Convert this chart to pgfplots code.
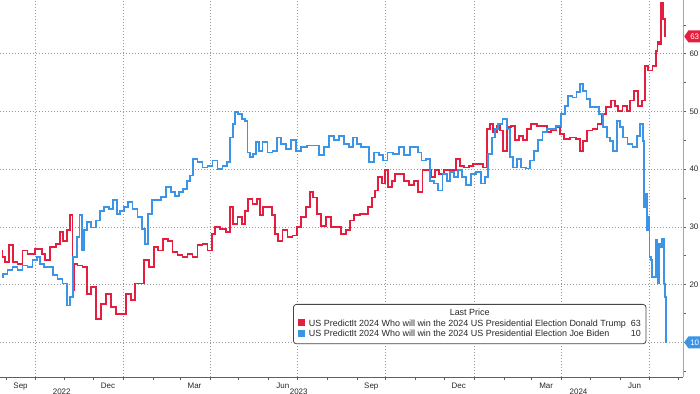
\documentclass[border=0pt]{standalone}
\usepackage{fontspec}
\setmainfont{Liberation Sans}
\usepackage{pgfplots}
\pgfplotsset{compat=1.18}
\usetikzlibrary{shapes.symbols}
\definecolor{trump}{RGB}{228,30,62}
\definecolor{biden}{RGB}{60,148,230}
\definecolor{gridc}{RGB}{150,150,150}
\definecolor{axisc}{RGB}{95,95,95}
\definecolor{raxis}{RGB}{200,150,160}
\definecolor{labc}{RGB}{40,40,40}
\definecolor{legc}{RGB}{70,70,70}

\pgfplotstableread{
day val
-34.7 25.9
-33.0 24.8
-29.5 23.9
-24.3 26.8
-20.8 23.9
-15.6 23.6
-10.4 25.9
-5.2 25.3
5.2 26.2
8.7 25.3
12.1 24.2
19.1 26.5
24.3 27.1
27.7 29.1
31.2 27.6
34.7 29.4
38.2 32.0
39.9 19.0
41.6 23.6
46.8 23.3
52.0 23.0
55.5 18.4
60.7 19.6
66.9 14.1
71.1 16.7
76.3 18.4
81.5 16.1
86.7 14.9
91.9 14.9
97.1 18.4
102.3 17.3
105.8 20.2
111.0 20.2
116.2 24.2
121.4 23.0
126.6 26.5
130.1 25.9
137.0 27.9
140.5 27.6
145.7 25.6
150.9 25.1
156.1 24.8
161.3 25.3
166.5 24.8
171.7 26.8
176.9 27.1
182.1 25.9
185.6 28.8
189.1 30.0
196.0 29.7
201.2 29.1
204.7 33.4
208.1 30.5
213.3 31.7
216.8 30.5
220.3 32.8
223.8 34.9
229.0 34.0
232.4 34.9
235.9 32.0
239.4 33.4
244.6 33.4
248.0 32.0
251.5 28.8
255.0 27.6
260.2 29.4
265.4 28.2
270.6 28.5
274.1 30.0
279.3 31.7
284.5 33.4
287.9 36.0
291.4 35.1
294.9 32.3
300.1 30.2
305.3 31.7
310.5 30.0
315.7 30.0
320.9 28.8
326.1 29.4
329.6 31.1
334.8 32.0
341.7 32.3
345.1 32.3
348.6 33.4
352.1 35.1
355.5 36.3
359.0 38.6
362.5 37.5
366.0 39.8
369.4 36.9
372.9 38.0
376.4 39.2
381.6 39.2
386.8 38.0
392.0 37.2
397.2 38.0
400.6 36.0
405.8 39.8
411.0 39.8
414.5 38.6
418.0 39.8
423.2 39.2
428.4 39.8
435.3 39.8
440.5 41.8
444.0 40.6
449.2 40.3
454.4 40.6
457.9 40.9
464.8 40.9
468.3 40.3
471.8 47.0
475.2 47.8
478.7 46.4
482.2 47.5
485.6 46.7
489.1 43.2
492.6 47.3
497.8 47.5
501.2 45.0
506.4 45.8
509.9 45.0
513.4 47.0
518.6 47.8
525.5 47.5
530.7 47.5
534.2 46.4
539.4 46.7
544.6 47.3
548.1 46.1
553.3 45.2
560.2 45.5
565.4 45.2
568.9 43.2
572.3 44.9
577.5 46.7
582.8 47.0
588.0 47.8
591.4 49.6
596.6 50.7
601.8 51.9
605.3 51.0
608.8 50.1
614.0 51.0
617.4 50.1
620.9 51.9
626.1 53.6
629.6 51.0
633.1 51.9
635.8 57.9
640.0 57.1
645.2 57.9
647.0 60.5
648.7 62.0
650.4 61.7
652.6 68.8
654.6 66.0
656.6 63.0
}\trumptable

\pgfplotstableread{
day val
-34.7 21.3
-31.2 21.9
-26.0 22.5
-20.8 23.0
-15.6 22.5
-10.4 23.3
-5.2 23.0
0.0 24.2
3.5 24.8
6.9 23.6
12.1 23.0
17.3 23.0
20.8 21.6
26.0 21.0
31.2 20.2
34.7 16.4
38.2 17.8
41.6 24.8
45.1 28.2
47.5 32.0
49.6 25.9
52.0 29.4
55.5 30.8
60.7 29.9
65.9 31.1
69.4 32.8
74.6 33.4
79.8 33.1
83.2 34.6
86.7 32.3
90.2 32.8
95.4 33.4
98.9 34.3
104.1 33.1
109.3 31.7
112.7 29.7
116.2 27.1
119.7 32.3
123.1 34.6
128.3 34.6
133.5 35.2
138.7 36.9
144.0 36.0
147.4 35.4
152.6 36.0
156.1 36.6
159.6 38.0
163.0 38.9
166.5 41.8
171.7 41.2
176.9 40.3
182.1 40.6
187.3 41.5
192.5 40.0
197.7 40.6
201.2 41.2
204.7 45.5
207.1 47.8
209.2 49.85
213.3 49.6
216.8 48.7
220.3 48.4
222.0 42.9
225.5 42.1
229.0 42.6
231.4 44.7
234.2 43.2
239.4 44.7
244.6 42.9
249.8 43.2
253.2 45.5
258.4 44.4
263.6 43.5
268.9 45.0
274.1 43.2
279.3 43.8
286.2 44.1
293.1 44.1
298.3 42.4
303.5 43.8
308.7 45.8
314.0 45.0
319.2 45.8
324.4 44.4
329.6 43.8
333.0 45.5
336.5 44.4
341.7 43.8
345.1 43.8
350.3 41.2
355.5 42.9
360.7 42.4
364.2 41.5
369.4 42.9
376.4 42.6
381.6 43.8
386.8 42.4
393.7 43.8
397.2 43.8
400.6 42.9
404.1 41.5
409.3 41.8
412.8 38.0
418.0 37.5
421.5 36.3
426.7 39.2
430.1 38.0
433.6 39.5
438.8 38.6
442.3 39.8
445.7 38.6
450.9 37.2
456.1 39.2
461.3 39.5
466.6 37.5
470.0 38.6
473.5 42.6
477.0 45.5
480.4 47.0
483.9 47.8
489.1 48.7
492.6 47.0
496.0 42.1
499.5 40.3
503.0 41.8
508.2 40.3
513.4 40.1
516.9 41.5
522.1 43.2
525.5 45.0
530.7 46.4
534.2 47.0
539.4 47.0
544.6 47.5
549.8 49.6
553.3 51.0
556.7 52.7
561.9 52.4
565.4 53.3
568.9 54.8
572.3 53.6
575.8 52.2
579.3 50.7
584.5 50.7
589.7 49.6
593.2 47.3
596.6 45.5
600.1 44.9
603.6 43.2
607.0 48.4
610.5 47.3
614.0 45.5
619.2 44.4
624.4 43.8
627.9 45.8
631.3 47.8
633.7 44.9
634.7 33.4
636.5 35.7
637.5 29.4
639.2 31.7
639.9 24.8
641.7 24.2
642.7 21.3
645.1 21.3
646.9 27.7
648.6 20.2
650.3 27.1
652.1 26.5
653.8 27.9
654.9 20.2
656.2 17.8
657.3 10.0
}\bidentable

\begin{document}
\begin{tikzpicture}[font=\fontsize{8}{9.6}\selectfont]
\begin{axis}[
  at={(0,0)}, anchor=south west,
  scale only axis, width=683bp, height=377bp,
  xmin=-36.4, xmax=674.4, ymin=4, ymax=69.3,
  clip=false,
  axis x line*=bottom, axis y line*=right,
  x axis line style={draw=axisc, line width=0.6bp, -},
  y axis line style={draw=raxis, line width=0.8bp, -},
  xtick={0,92,182,273,365,457,548,639},
  xticklabels={},
  minor xtick={-30,0,31,61,92,123,151,182,212,243,273,304,335,365,396,426,457,488,517,548,578,609,639,670},
  extra x ticks={-15,76,166,258,350,441,532,624},
  extra x tick labels={Sep,Dec,Mar,Jun,Sep,Dec,Mar,Jun},
  extra x tick style={grid=none, tick style={draw=none}},
  ytick={10,20,30,40,50,60},
  minor ytick={5,15,25,35,45,55,65},
  tick align=outside,
  major tick length=3bp, minor tick length=3bp,
  tick style={draw=axisc, line width=0.6bp},
  xmajorgrids, ymajorgrids,
  major grid style={draw=gridc, dash pattern=on 1bp off 2bp, line width=0.6bp},
  xticklabel style={font=\fontsize{8}{9}\selectfont, text=labc, yshift=1bp},
  yticklabel style={font=\fontsize{8}{9}\selectfont, text=labc},
  /pgf/number format/assume math mode=true,
]
\addplot[trump, line width=1.8bp, const plot mark mid] table[x=day, y=val] {\trumptable};
\addplot[biden, line width=1.8bp, const plot mark mid] table[x=day, y=val] {\bidentable};

\node[signal, signal to=west, signal pointer angle=110, fill=trump, text=white,
      inner xsep=1.8bp, inner ysep=1.8bp, minimum height=12bp, anchor=west,
      font=\fontsize{8}{9}\selectfont, xshift=1bp] at (axis cs:674.4,63) {63};
\node[signal, signal to=west, signal pointer angle=110, fill=biden, text=white,
      inner xsep=1.8bp, inner ysep=1.8bp, minimum height=12bp, anchor=west,
      font=\fontsize{8}{9}\selectfont, xshift=1bp] at (axis cs:674.4,10) {10};

\node[anchor=north, inner sep=0pt, text=labc, yshift=-12bp] at (axis cs:27.8,4) {2022};
\node[anchor=north, inner sep=0pt, text=labc, yshift=-12bp] at (axis cs:274.5,4) {2023};
\node[anchor=north, inner sep=0pt, text=labc, yshift=-12bp] at (axis cs:565.7,4) {2024};
\draw[axisc, line width=0.6bp] (axis cs:92,4) ++(0,-10bp) -- ++(0,-12bp);
\draw[axisc, line width=0.6bp] (axis cs:457,4) ++(0,-10bp) -- ++(0,-12bp);
\end{axis}

\node[draw=legc, line width=0.8bp, rounded corners=3bp, fill=white, anchor=north west,
      inner xsep=5bp, inner ysep=4bp, text=labc, font=\fontsize{9}{10.5}\selectfont]
  at (293bp,73bp) {%
  \begin{tabular}{@{}l@{\hspace{3.5bp}}l@{\hspace{5bp}}r@{}}
  \multicolumn{3}{c}{Last Price}\\
  \textcolor{trump}{\rule{7bp}{7bp}} & US PredictIt 2024 Who will win the 2024 US Presidential Election Donald Trump & 63\\
  \textcolor{biden}{\rule{7bp}{7bp}} & US PredictIt 2024 Who will win the 2024 US Presidential Election Joe Biden & 10
  \end{tabular}};

\pgfresetboundingbox
\path[use as bounding box] (0,-17bp) rectangle (700bp,377bp);
\end{tikzpicture}
\end{document}
